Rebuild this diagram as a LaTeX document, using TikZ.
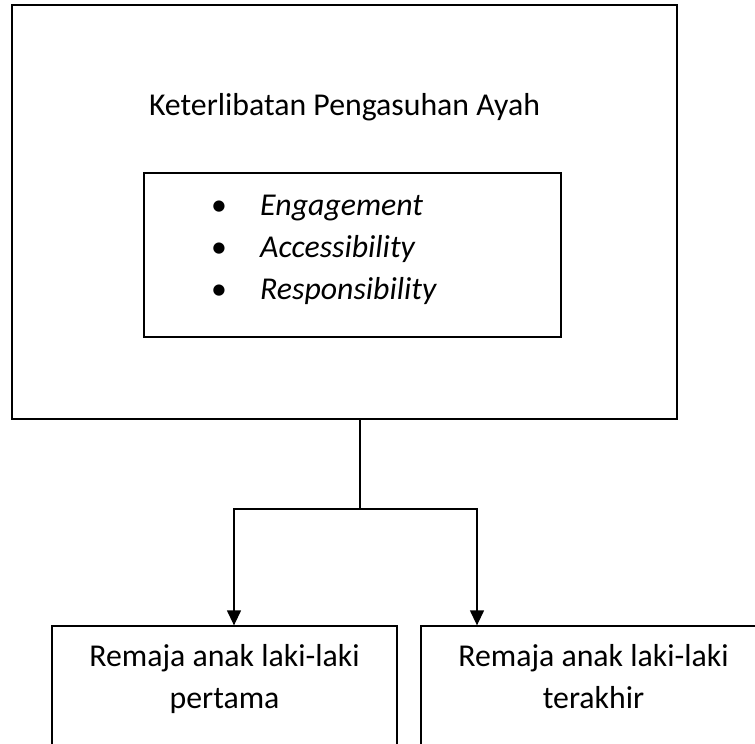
\documentclass[tikz,border=0pt]{standalone}
\usepackage{fontspec}
\setmainfont{Carlito}
\usetikzlibrary{positioning,arrows.meta}
\tikzset{%
  kotak/.style={draw,line width=1.3pt,inner sep=0pt},
  teks/.style={font=\fontsize{31.8}{42}\selectfont,inner sep=0pt,align=center},
}

\begin{document}
\begin{tikzpicture}[
            x=1pt,y=-1pt,
            butir/.style={
              font=\fontsize{31.8}{42}\selectfont\itshape,
              inner sep=0pt,
              anchor=base west
              },
            garis/.style={
              line width=1.3pt
              },
            panah/.style={
              line width=1.3pt,
              -{Triangle[width=14pt,length=15pt]}
              }
            ]
            \useasboundingbox (0,0) rectangle (755,744);
            \clip (0,0) rectangle (755,744);
            \node[kotak,minimum width=665pt,minimum height=414pt] (ayah) at (344.5,212) {};
            \node[teks,anchor=base] (judul) at (344.5,115) {Keterlibatan Pengasuhan Ayah};
            \node[kotak,minimum width=417pt,minimum height=164pt] (dimensi) at (352.5,255) {};
            \foreach \i/\isi in {1/Engagement,2/Accessibility,3/Responsibility}
              \node[butir] (butir\i) at (211,173+42*\i) {\makebox[49pt][l]{\upshape\textbullet}\isi};

            \node[kotak,minimum width=345pt,minimum height=160pt] (remaja1) at (224.5,706) {};
            \node[kotak,minimum width=345pt,minimum height=160pt] (remaja2) at (593.5,706) {};
            % anchor base = baseline of the last line
            \node[teks,anchor=base] (teks1) at (224.5,708) {Remaja anak laki-laki\\pertama};
            \node[teks,anchor=base] (teks2) at (593.5,708) {Remaja anak laki-laki\\terakhir};

            \coordinate (cabang) at (360,509);
            \coordinate (kiri) at (234,509);
            \coordinate (kanan) at (477,509);
            \draw[garis] (ayah.south -| cabang) -- (cabang);
            \draw[panah] (cabang) -- (kiri) -- (kiri |- remaja1.north);
            \draw[panah] (cabang) -- (kanan) -- (kanan |- remaja2.north);
        \end{tikzpicture}
\end{document}
